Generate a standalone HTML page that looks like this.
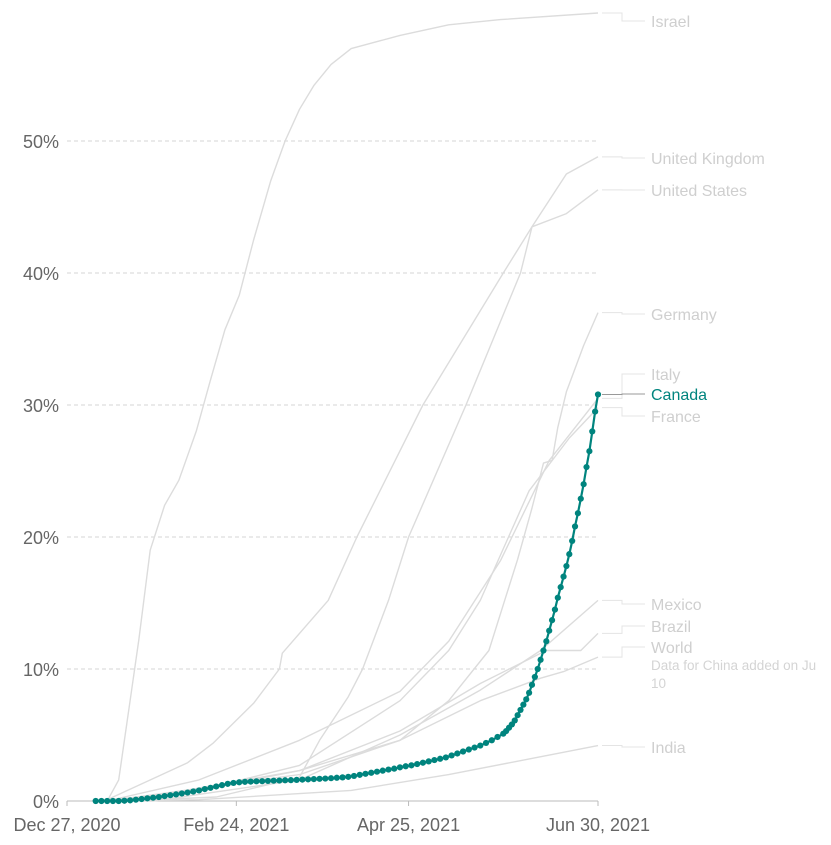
<!DOCTYPE html>
<html><head><meta charset="utf-8">
<style>
html,body{margin:0;padding:0;background:#fff;}
svg{display:block;font-family:"Liberation Sans",sans-serif;}
</style></head>
<body>
<svg id="chart" width="831" height="845" viewBox="0 0 831 845" xmlns="http://www.w3.org/2000/svg"></svg>
<script>
const yTicks = [0, 10, 20, 30, 40, 50];
const xTickDays = [0, 59, 119, 185];
const xTickLabels = ["Dec 27, 2020", "Feb 24, 2021", "Apr 25, 2021", "Jun 30, 2021"];

const israelDays = [14,15,18,22,25,29,34,39,45,50,55,60,65,71,76,81,86,92,99,116,133,151,185];
const israelVals = [0,0.4,1.6,7.6,12.2,19,22.4,24.3,28,31.9,35.7,38.3,42.5,47,50,52.4,54.2,55.8,57,58,58.8,59.2,59.7];
const usDays = [14,42,51,65,74,75,91,101,124,152,162,174,185];
const usVals = [0.1,2.9,4.4,7.4,10,11.2,15.2,20,30,40,43.5,44.5,46.3];
const ukDays = [20,52,81,88,98,103,112,119,139,158,162,174,185];
const ukVals = [0,0.3,1.8,4.6,7.9,10,15.2,20,30,40,43.5,47.5,48.8];
const germanyDays = [12,46,81,116,133,147,157,162,166,169,171,174,180,185];
const germanyVals = [0,0.8,2.3,4.6,7.6,11.4,18.3,22.2,25.6,25.8,28.3,31,34.5,37];
const italyDays = [14,46,81,116,133,151,168,185];
const italyVals = [0,1.6,4.6,8.3,12.1,18.2,25.8,30.5];
const franceDays = [16,46,81,116,133,144,161,175,185];
const franceVals = [0,0.8,2.7,7.6,11.4,15.2,23.5,27.5,29.8];
const mexicoDays = [30,81,116,144,165,185];
const mexicoVals = [0,1.6,5,8.4,11.4,15.2];
const brazilDays = [20,81,116,144,167,179,185];
const brazilVals = [0,2.3,5.3,8.9,11.4,11.4,12.7];
const worldDays = [14,81,116,144,165,173,185];
const worldVals = [0,2,4.6,7.6,9.3,9.8,10.9];
const indiaDays = [20,46,99,133,185];
const indiaVals = [0,0.1,0.8,2,4.2];

const canadaDays = [10,12,14,16,18,20,22,24,26,28,30,32,34,36,38,40,42,44,46,48,50,52,54,56,58,60,62,64,66,68,70,72,74,76,78,80,82,84,86,88,90,92,94,96,98,100,102,104,106,108,110,112,114,116,118,120,122,124,126,128,130,132,134,136,138,140,142,144,146,148,150,
152,153,154,155,156,157,158,159,160,161,162,163,164,165,166,167,168,169,170,171,172,173,174,175,176,177,178,179,180,181,182,183,184,185];
const canadaVals = [0,0,0,0,0,0.02,0.05,0.1,0.15,0.2,0.25,0.3,0.37,0.44,0.5,0.57,0.64,0.72,0.8,0.9,1.0,1.1,1.2,1.3,1.37,1.42,1.45,1.47,1.49,1.5,1.52,1.54,1.55,1.57,1.58,1.6,1.62,1.64,1.66,1.68,1.7,1.73,1.76,1.79,1.83,1.9,1.98,2.06,2.14,2.22,2.3,2.38,2.45,2.55,2.63,2.7,2.8,2.9,3.0,3.1,3.2,3.3,3.45,3.6,3.75,3.9,4.05,4.2,4.4,4.6,4.85,
5.1,5.3,5.55,5.8,6.1,6.5,6.9,7.3,7.7,8.2,8.8,9.4,10.0,10.7,11.4,12.1,12.9,13.7,14.5,15.4,16.2,17.0,17.8,18.7,19.7,20.8,21.8,22.9,24.0,25.3,26.5,28.0,29.5,30.8];

const X0 = 67, X1 = 598, Y0 = 801, PX_PER_PCT = 13.2;
const xs = d => X0 + d * (X1 - X0) / 185;
const ys = v => Y0 - v * PX_PER_PCT;

const svg = document.getElementById('chart');
const NS = 'http://www.w3.org/2000/svg';
function mk(tag, attrs, parent) {
  const e = document.createElementNS(NS, tag);
  for (const k in attrs) e.setAttribute(k, attrs[k]);
  (parent || svg).appendChild(e);
  return e;
}

yTicks.forEach(t => {
  if (t > 0) {
    const g = mk('line', {x1: X0, x2: X1, y1: ys(t), y2: ys(t), stroke: '#d6d6d6', 'stroke-dasharray': '4,3', 'stroke-width': 1});
    
    
  }
  const tx = mk('text', {x: 59, y: ys(t) + 7, 'text-anchor': 'end', 'font-size': 18, fill: '#666'});
  tx.textContent = t + '%';
  
  
});
const ax = mk('line', {x1: X0, x2: X1, y1: Y0, y2: Y0, stroke: '#bbb', 'stroke-width': 1});


xTickDays.forEach((d, i) => {
  const tk = mk('line', {x1: xs(d), x2: xs(d), y1: Y0, y2: Y0 + 5, stroke: '#bbb'});
  
  
  const tx = mk('text', {x: xs(d), y: 831, 'text-anchor': 'middle', 'font-size': 18, fill: '#666'});
  tx.textContent = xTickLabels[i];
  
  
});

const series = [
  ['israel', israelDays, israelVals],
  ['united-states', usDays, usVals],
  ['united-kingdom', ukDays, ukVals],
  ['germany', germanyDays, germanyVals],
  ['italy', italyDays, italyVals],
  ['france', franceDays, franceVals],
  ['mexico', mexicoDays, mexicoVals],
  ['brazil', brazilDays, brazilVals],
  ['world', worldDays, worldVals],
  ['india', indiaDays, indiaVals]
];
series.forEach(s => {
  const pts = s[1].map((d, i) => xs(d).toFixed(1) + ',' + ys(s[2][i]).toFixed(1)).join(' ');
  const pl = mk('polyline', {points: pts, fill: 'none', stroke: '#dcdcdc', 'stroke-width': 1.4, 'stroke-linejoin': 'round'});
  
  
});

const cpts = canadaDays.map((d, i) => xs(d).toFixed(1) + ',' + ys(canadaVals[i]).toFixed(1)).join(' ');
const cl = mk('polyline', {points: cpts, fill: 'none', stroke: '#00847e', 'stroke-width': 2.2});


canadaDays.forEach((d, i) => {
  const c = mk('circle', {cx: xs(d), cy: ys(canadaVals[i]), r: 3.1, fill: '#00847e'});
  
  
});

const labels = [
  ['Israel', 59.7, 21, '#cfcfcf'],
  ['United Kingdom', 48.8, 158, '#cfcfcf'],
  ['United States', 46.3, 190, '#cfcfcf'],
  ['Germany', 37, 314, '#cfcfcf'],
  ['Italy', 30.5, 374, '#cfcfcf'],
  ['Canada', 30.8, 394, '#00847e'],
  ['France', 29.8, 416, '#cfcfcf'],
  ['Mexico', 15.2, 604, '#cfcfcf'],
  ['Brazil', 12.7, 626, '#cfcfcf'],
  ['World', 10.9, 647, '#cfcfcf'],
  ['India', 4.2, 747, '#cfcfcf']
];
labels.forEach(l => {
  const sy = ys(l[1]);
  const cn = mk('polyline', {points: `602,${sy} 622,${sy} 622,${l[2]} 645,${l[2]}`, fill: 'none', stroke: l[0] === 'Canada' ? '#999' : '#e4e4e4', 'stroke-width': 1});
  
  
  const t = mk('text', {x: 651, y: l[2] + 6, 'font-size': 16, fill: l[3]});
  t.textContent = l[0];
  
  
});
const n1 = mk('text', {x: 651, y: 670, 'font-size': 13.5, fill: '#d4d4d4'});
n1.textContent = 'Data for China added on Ju';


const n2 = mk('text', {x: 651, y: 688, 'font-size': 13.5, fill: '#d4d4d4'});
n2.textContent = '10';


</script>
</body></html>
